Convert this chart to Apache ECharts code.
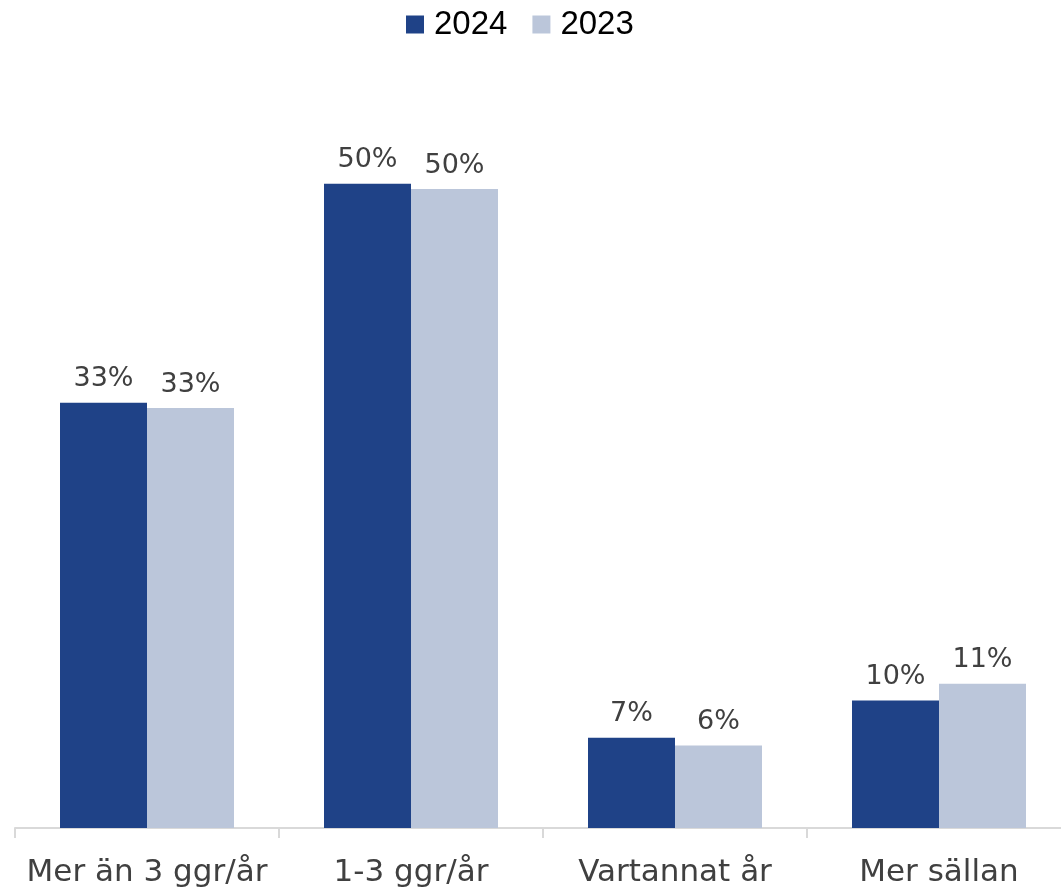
<!DOCTYPE html>
<html>
<head>
<meta charset="utf-8">
<script src="https://cdn.jsdelivr.net/npm/echarts@6/dist/echarts.min.js"></script>
<style>html,body{margin:0;padding:0;background:#fff}#c{width:1061px;height:892px}</style>
</head>
<body>
<div id="c"></div>
<script>
const categories = ['Mer än 3 ggr/år', '1-3 ggr/år', 'Vartannat år', 'Mer sällan'];
const seriesNames = ['2024', '2023'];
const values2024 = [33.0, 50.0, 7.0, 9.9];
const values2023 = [32.6, 49.6, 6.4, 11.2];

const chart = echarts.init(document.getElementById('c'), null, {renderer: 'canvas'});
const labelCfg = {
  show: true, position: 'top', distance: 10,
  fontFamily: 'DejaVu Sans', fontSize: 27, color: '#404040',
  formatter: p => Math.round(p.value) + '%'
};
chart.setOption({
  animation: false,
  backgroundColor: '#ffffff',
  legend: {
    data: seriesNames, left: 401, top: 3,
    itemWidth: 18, itemHeight: 18, itemGap: 25,
    icon: 'rect',
    textStyle: {fontFamily: 'Liberation Sans', fontSize: 33, color: '#000', padding: [0, 0, 0, 5]}
  },
  grid: {left: 15, right: -10, top: 55, bottom: 64, containLabel: false, outerBoundsMode: 'none'},
  xAxis: {
    type: 'category', data: categories,
    axisLine: {lineStyle: {color: '#d9d9d9', width: 2}},
    axisTick: {show: true, interval: 0, length: 10, lineStyle: {color: '#d9d9d9', width: 2}},
    axisLabel: {interval: 0, fontFamily: 'DejaVu Sans', fontSize: 31, color: '#404040', margin: 29}
  },
  yAxis: {type: 'value', min: 0, max: 60, show: false, splitLine: {show: false}},
  series: [
    {name: seriesNames[0], type: 'bar', data: values2024, barWidth: 87, barGap: '0%',
     itemStyle: {color: '#1F4287'}, label: labelCfg},
    {name: seriesNames[1], type: 'bar', data: values2023, barWidth: 87,
     itemStyle: {color: '#BBC6DA'}, label: labelCfg}
  ]
});
</script>
</body>
</html>
